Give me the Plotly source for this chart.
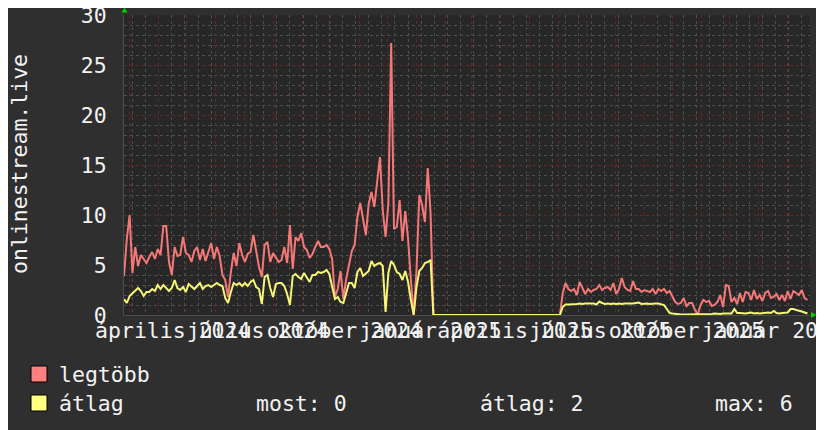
import pandas as pd
import plotly.graph_objects as go

# ---------------- data ----------------
series_start = "2024-02-24"
step = "3D"

legtobb = [
    3.9, 7.6, 10.0, 4.2, 6.8, 4.9, 6.0, 5.6, 5.2, 5.8,
    6.3, 5.6, 6.6, 6.0, 8.9, 8.9, 5.3, 4.0, 6.8, 5.9,
    6.0, 7.8, 6.2, 6.0, 5.3, 6.4, 6.8, 5.5, 6.6, 5.4,
    6.2, 7.2, 5.6, 6.8, 5.9, 4.0, 3.5, 1.8, 4.3, 6.2,
    4.9, 7.2, 6.0, 5.3, 6.1, 6.3, 8.0, 6.2, 4.8, 3.8,
    7.0, 7.3, 5.3, 6.2, 5.8, 5.3, 5.5, 6.8, 5.2, 9.0,
    4.6, 7.8, 7.4, 8.2, 6.8, 6.5, 5.7, 6.1, 6.8, 7.4,
    6.8, 6.8, 7.0, 6.6, 5.6, 1.8, 2.6, 4.4, 1.6, 3.6,
    5.0, 6.4, 7.0, 9.8, 11.2, 9.4, 8.0, 11.1, 12.3, 10.8,
    13.6, 15.8, 10.5, 7.8, 11.2, 27.2, 8.6, 8.8, 11.5, 7.4,
    10.4, 7.6, 3.5, 0.0, 4.5, 12.0, 11.0, 9.3, 14.7, 10.2,
    0, 0, 0, 0, 0, 0, 0, 0, 0, 0,
    0, 0, 0, 0, 0, 0, 0, 0, 0, 0,
    0, 0, 0, 0, 0, 0, 0, 0, 0, 0,
    0, 0, 0, 0, 0, 0, 0, 0, 0, 0,
    0, 0, 0, 0, 0, 0,
    2.2, 3.2, 2.6, 2.4, 2.6, 2.0, 3.3, 2.6, 2.1, 2.6,
    2.3, 2.5, 2.6, 3.0, 2.5, 2.7, 2.8, 2.5, 3.2, 2.1,
    2.6, 3.7, 2.8, 2.5, 2.4, 3.4, 2.6, 2.6, 2.3, 2.5,
    2.4, 2.3, 2.6, 2.1, 2.6, 2.4, 2.6, 2.2, 2.4, 1.9,
    1.3, 1.1, 1.2, 1.7, 0.9, 1.2, 1.2, 0.5, 0.05, 1.0,
    1.5, 1.3, 1.4, 0.9, 1.0, 1.3, 2.0, 0.8, 3.0, 2.9,
    1.3, 1.7, 1.1, 2.2, 1.3, 2.3, 2.2, 1.5, 2.5, 1.6,
    2.0, 1.4, 2.2, 2.4, 1.7, 1.8, 2.1, 1.5, 2.0, 1.4,
    2.4, 1.6, 2.4, 2.2, 2.0, 2.5, 1.7, 1.5,
]

atlag = [
    1.6, 1.2, 1.9, 2.2, 2.5, 2.7, 2.4, 1.9, 2.3, 2.3,
    2.6, 2.4, 3.0, 2.6, 3.0, 2.7, 2.4, 2.7, 3.5, 2.7,
    2.5, 2.8, 2.3, 3.1, 2.8, 2.6, 2.9, 3.2, 2.6, 2.9,
    3.0, 2.8, 3.0, 3.2, 3.0, 2.9, 1.7, 1.2, 2.3, 3.2,
    3.0, 3.2, 2.9, 3.2, 2.9, 3.3, 3.5, 2.8, 2.6, 1.1,
    3.8, 4.0, 2.7, 1.8, 3.1, 3.2, 3.2, 2.9, 2.1, 1.0,
    3.9, 4.1, 3.8, 3.6, 4.2, 3.7, 3.3, 4.0, 4.0, 4.3,
    4.2, 4.3, 4.5, 4.1, 2.8, 1.6, 1.8, 1.3, 1.2, 2.3,
    3.2, 3.2, 2.7, 4.3, 4.7, 3.9, 4.2, 4.4, 5.4, 4.9,
    5.1, 5.2, 4.9, 0.3, 4.2, 5.4, 5.0, 4.3, 4.1, 3.5,
    4.4, 3.3, 1.5, 0.0, 2.8, 4.4, 4.7, 5.2, 5.3, 5.5,
    0, 0, 0, 0, 0, 0, 0, 0, 0, 0,
    0, 0, 0, 0, 0, 0, 0, 0, 0, 0,
    0, 0, 0, 0, 0, 0, 0, 0, 0, 0,
    0, 0, 0, 0, 0, 0, 0, 0, 0, 0,
    0, 0, 0, 0, 0, 0,
    0.8, 1.05, 1.05, 1.05, 1.05, 1.1, 1.15, 1.1, 1.15, 1.15,
    1.1, 1.15, 1.05, 1.35, 1.2, 1.1, 1.15, 1.1, 1.15, 1.1,
    1.15, 1.1, 1.15, 1.15, 1.1, 1.15, 1.2, 1.25, 1.1, 1.15,
    1.15, 1.1, 1.15, 1.15, 1.15, 1.1, 1.0, 0.6, 0.2, 0.15,
    0.1, 0.05, 0.05, 0.05, 0.05, 0.05, 0.05, 0.05, 0.05, 0.1,
    0.1, 0.05, 0.1, 0.1, 0.15, 0.1, 0.1, 0.15, 0.15, 0.15,
    0.15, 0.6, 0.2, 0.2, 0.15, 0.15, 0.2, 0.25, 0.15, 0.2,
    0.15, 0.2, 0.2, 0.25, 0.2, 0.4, 0.2, 0.15, 0.2, 0.2,
    0.25, 0.6, 0.6, 0.5, 0.45, 0.35, 0.25, 0.15,
]

x_range = ["2024-02-24 00:00", "2026-02-24 17:30"]
label_dates = ["2024-04-16", "2024-07-16", "2024-10-16", "2025-01-16",
               "2025-04-16", "2025-07-16", "2025-10-16", "2026-01-16"]
label_text = ["április 2024", "július 2024", "október 2024", "január 2025",
              "április 2025", "július 2025", "október 2025", "január 2026"]
y_title = "onlinestream.live"
legend_names = ["legtöbb", "átlag"]
stats = [("most", 0), ("átlag", 2), ("max", 6)]

# ---------------- style ----------------
# the page shows the figure offset by the body margin; positions below are
# wanted window pixels and are shifted back by OFF
OFF = 8
W, H = 824, 430
PL, PR, PT, PB = 124, 810, 15, 315          # wanted plot box in window px
L, T = PL - OFF, PT - OFF
R, B = W - (PR - OFF), H - (PB - OFF)
PW, PH = PR - PL, PB - PT
BG = "#2f2f2f"
CANVAS = "#272727"
RED = "#f57878"
YEL = "#f5f577"
RED_SQ = "#ff8080"
YEL_SQ = "#ffff80"
MAJ = "#5e2a2a"
MIN = "#4e4e4e"
AX = "#4c4c4c"
TXT = "#f2f2f2"
ARROW = "#00d000"
FONT = "DejaVu Sans Mono"
FS = 21.5


def px2x(px):
    return (px - PL) / PW


def py2y(py):
    return (PB - py) / PH


dates = pd.date_range(series_start, periods=len(legtobb), freq=step)

fig = go.Figure()
fig.add_trace(go.Scatter(x=dates, y=legtobb, mode="lines",
                         line=dict(color=RED, width=2), hoverinfo="skip"))
fig.add_trace(go.Scatter(x=dates, y=atlag, mode="lines",
                         line=dict(color=YEL, width=2), hoverinfo="skip"))
fig.add_trace(go.Scatter(x=[label_dates[0]], y=[None], xaxis="x2",
                         mode="lines", hoverinfo="skip"))

fig.update_layout(
    width=W, height=H, autosize=False,
    margin=dict(l=L, r=R, t=T, b=B, pad=0, autoexpand=False),
    paper_bgcolor=BG, plot_bgcolor=CANVAS,
    showlegend=False, hovermode=False,
    font=dict(family=FONT, size=FS, color=TXT),
    xaxis=dict(
        type="date", range=x_range, tickmode="linear", automargin=False,
        tick0="2024-03-01", dtick="M1", showticklabels=False,
        showgrid=True, gridcolor=MAJ, griddash="dot", gridwidth=1,
        ticks="", zeroline=False, showline=True, linecolor=AX, linewidth=1,
        minor=dict(tickmode="linear", tick0="2024-03-04", dtick=14 * 86400000,
                   showgrid=True, gridcolor=MIN, griddash="dot", gridwidth=1),
    ),
    xaxis2=dict(
        type="date", range=x_range, overlaying="x", anchor="y", side="bottom",
        automargin=False,
        tickmode="array", tickvals=label_dates, ticktext=label_text,
        tickangle=0, showgrid=False, ticks="", zeroline=False, showline=False,
        ticklabeloverflow="allow", ticklabelstandoff=0,
        tickfont=dict(family=FONT, size=FS, color=TXT),
    ),
    yaxis=dict(
        range=[0, 30], tickmode="linear", tick0=0, dtick=5, automargin=False,
        showgrid=True, gridcolor=MAJ, griddash="dot", gridwidth=1,
        minor=dict(tickmode="linear", tick0=0, dtick=1, showgrid=True,
                   gridcolor=MIN, griddash="dot", gridwidth=1),
        zeroline=False, showline=True, linecolor=AX, linewidth=1,
        ticks="", ticklabelstandoff=12, ticklabeloverflow="allow",
        tickfont=dict(family=FONT, size=FS, color=TXT),
    ),
)

shapes = []
# axis arrows
shapes.append(dict(type="path", xref="paper", yref="paper",
                   path=f"M {px2x(121.5)},{py2y(12.5)} L {px2x(127.5)},{py2y(12.5)} L {px2x(124.5)},{py2y(7.5)} Z",
                   fillcolor=ARROW, line=dict(width=0)))
shapes.append(dict(type="path", xref="paper", yref="paper",
                   path=f"M {px2x(811)},{py2y(312)} L {px2x(811)},{py2y(318)} L {px2x(816.5)},{py2y(315)} Z",
                   fillcolor=ARROW, line=dict(width=0)))
# legend squares
for name, col, top in [(legend_names[0], RED_SQ, 366), (legend_names[1], YEL_SQ, 395)]:
    shapes.append(dict(type="rect", xref="paper", yref="paper",
                       x0=px2x(31), x1=px2x(47), y0=py2y(top + 16), y1=py2y(top),
                       fillcolor=col, line=dict(color="#000000", width=1)))
fig.update_layout(shapes=shapes)

ann = []
ann.append(dict(text=y_title, xref="paper", yref="paper", x=px2x(19), y=py2y(164),
                textangle=-90, showarrow=False, xanchor="center", yanchor="middle",
                font=dict(family=FONT, size=FS, color=TXT)))
ann.append(dict(text=legend_names[0], xref="paper", yref="paper", x=px2x(57), y=py2y(374),
                showarrow=False, xanchor="left", yanchor="middle",
                font=dict(family=FONT, size=FS, color=TXT)))
ann.append(dict(text=legend_names[1], xref="paper", yref="paper", x=px2x(57), y=py2y(403),
                showarrow=False, xanchor="left", yanchor="middle",
                font=dict(family=FONT, size=FS, color=TXT)))
for (lab, val), xpx in zip(stats, [254, 478, 713]):
    ann.append(dict(text=f"{lab}: {val}", xref="paper", yref="paper", x=px2x(xpx), y=py2y(403),
                    showarrow=False, xanchor="left", yanchor="middle",
                    font=dict(family=FONT, size=FS, color=TXT)))
fig.update_layout(annotations=ann)

fig.write_html("out.html")
